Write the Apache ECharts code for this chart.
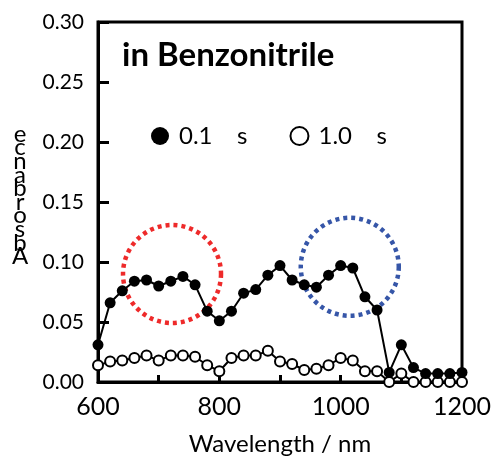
<!DOCTYPE html>
<html>
<head>
<meta charset="utf-8">
<script src="https://cdn.jsdelivr.net/npm/echarts@6/dist/echarts.min.js"></script>
<style>
html, body { margin: 0; padding: 0; background: #fff; }
#absChart { width: 496px; height: 461px; }
</style>
</head>
<body>
<div id="absChart"></div>
<script>
// 吸収スペクトル (wavelength in nm, every 20 nm)
var wavelengths = [600, 620, 640, 660, 680, 700, 720, 740, 760, 780,
                   800, 820, 840, 860, 880, 900, 920, 940, 960, 980,
                   1000, 1020, 1040, 1060, 1080, 1100, 1120, 1140, 1160, 1180, 1200];
var abs01 = [0.031, 0.066, 0.076, 0.084, 0.085, 0.080, 0.084, 0.088, 0.081, 0.059,
             0.051, 0.059, 0.074, 0.077, 0.089, 0.097, 0.085, 0.081, 0.079, 0.089,
             0.097, 0.095, 0.071, 0.060, 0.008, 0.031, 0.012, 0.007, 0.007, 0.007, 0.008];
var abs10 = [0.014, 0.017, 0.018, 0.020, 0.022, 0.018, 0.022, 0.022, 0.021, 0.014,
             0.009, 0.020, 0.022, 0.022, 0.026, 0.017, 0.015, 0.010, 0.011, 0.014,
             0.020, 0.018, 0.009, 0.009, 0.000, 0.007, 0.000, 0.000, 0.000, 0.000, 0.000];
var seriesNames = ['0.1    s', '1.0    s'];
var yTitle = 'ecnabrosbA';

function pairs(xs, ys) {
    return xs.map(function (x, i) { return [x, ys[i]]; });
}

var absChart = echarts.init(document.getElementById('absChart')),
absOption = {
    animation: false,
    textStyle: { fontFamily: 'Lato' },
    title: {
        text: 'in Benzonitrile',
        left: 117,
        top: 34,
        textStyle: { fontFamily: 'Lato', fontWeight: 'bold', fontSize: 33, color: '#000' }
    },
    legend: {
        left: 146,
        top: 119,
        itemGap: 42,
        itemWidth: 18,
        itemHeight: 18,
        textStyle: { fontSize: 24, color: '#000', fontFamily: 'Lato', padding: [0, 0, 0, 5] },
        data: [
            { name: seriesNames[0], icon: 'circle', itemStyle: { color: '#000', borderWidth: 0 } },
            { name: seriesNames[1], icon: 'circle', itemStyle: { color: '#fff', borderColor: '#000', borderWidth: 2 } }
        ]
    },
    grid: {
        left: 98,
        right: 34,
        top: 22,
        bottom: 78,
        show: true,
        borderColor: '#000',
        borderWidth: 3
    },
    xAxis: {
        type: 'value',
        min: 600,
        max: 1200,
        interval: 100,
        name: 'Wavelength / nm',
        nameLocation: 'middle',
        nameGap: 50,
        nameTextStyle: { fontSize: 24, color: '#000', fontFamily: 'Lato' },
        splitLine: { show: false },
        axisLine: { lineStyle: { color: '#000', width: 3 } },
        axisTick: { inside: true, length: 7, lineStyle: { color: '#000', width: 3 } },
        axisLabel: {
            fontSize: 25,
            color: '#000',
            margin: 12,
            formatter: function (v) { return v % 200 === 0 ? String(v) : ''; }
        }
    },
    yAxis: {
        type: 'value',
        min: 0,
        max: 0.3,
        interval: 0.05,
        // letters stacked one per line, last empty line lifts the block a bit
        name: yTitle.split('').join('\n') + '\n',
        nameLocation: 'middle',
        nameRotate: 0,
        nameGap: 78,
        nameTextStyle: {
            fontSize: 24, lineHeight: 13.6, color: '#000', align: 'center',
            verticalAlign: 'middle', fontFamily: 'Lato'
        },
        splitLine: { show: false },
        axisLine: { lineStyle: { color: '#000', width: 3 } },
        axisTick: { inside: true, length: 11, lineStyle: { color: '#000', width: 3 } },
        axisLabel: {
            fontSize: 21,
            color: '#000',
            margin: 14,
            formatter: function (v) { return v.toFixed(2); }
        }
    },
    series: [
        {
            name: seriesNames[0],
            type: 'line',
            data: pairs(wavelengths, abs01),
            symbol: 'circle',
            symbolSize: 11,
            lineStyle: { color: '#000', width: 2 },
            itemStyle: { color: '#000' },
            z: 3
        },
        {
            name: seriesNames[1],
            type: 'line',
            data: pairs(wavelengths, abs10),
            symbol: 'circle',
            symbolSize: 10,
            showAllSymbol: true,
            lineStyle: { color: '#000', width: 2 },
            itemStyle: { color: '#fff', borderColor: '#000', borderWidth: 2 },
            z: 2
        }
    ]
};
absChart.setOption(absOption);

// 点線の丸 (annotation circles)
var redCenter = absChart.convertToPixel({ gridIndex: 0 }, [722, 0.090]);
var blueCenter = absChart.convertToPixel({ gridIndex: 0 }, [1015, 0.096]);
absChart.setOption({
    graphic: [
        {
            type: 'circle',
            shape: { cx: redCenter[0], cy: redCenter[1], r: 49 },
            style: { fill: null, stroke: '#ee2a2a', lineWidth: 4.5, lineDash: [4, 4] },
            z: 1
        },
        {
            type: 'circle',
            shape: { cx: blueCenter[0], cy: blueCenter[1], r: 49 },
            style: { fill: null, stroke: '#3656a8', lineWidth: 4.5, lineDash: [4, 4] },
            z: 1
        }
    ]
});
</script>
</body>
</html>
